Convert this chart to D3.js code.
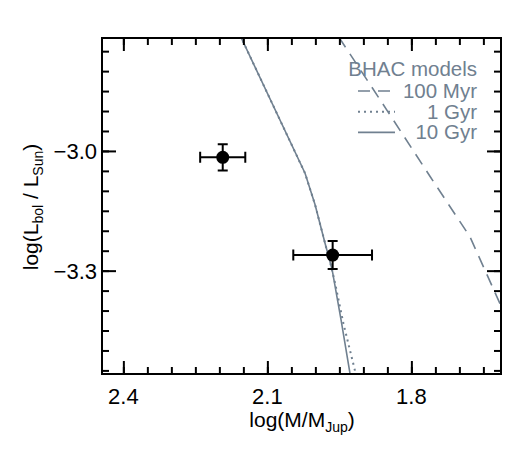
<!DOCTYPE html>
<html>
<head>
<meta charset="utf-8">
<script src="https://cdn.jsdelivr.net/npm/d3@7"></script>
<style>
  body { margin: 0; background: #fff; }
  text { font-family: "Liberation Sans", Arial, sans-serif; }
</style>
</head>
<body>
<div id="my_dataviz"></div>
<script>
// ---- data ----
var xMajorTicks = [2.4, 2.1, 1.8];
var yMajorTicks = [-3.0, -3.3];

// the two objects (mass, luminosity and their errors)
var objMass    = [2.193, 1.964];
var objMassErr = [0.047, 0.082];
var objLum     = [-3.016, -3.261];
var objLumErr  = [0.033, 0.035];

// BHAC model isochrones
var track100MyrMass = [1.951, 1.865, 1.761, 1.678, 1.622, 1.594];
var track100MyrLum  = [-2.715, -2.872, -3.064, -3.215, -3.365, -3.440];

var track1GyrMass = [2.162, 2.0215, 2.0006, 1.980, 1.967, 1.959, 1.9417, 1.9158, 1.912];
var track1GyrLum  = [-2.697, -3.056, -3.135, -3.2306, -3.29, -3.331, -3.4318, -3.559, -3.575];

var track10GyrMass = [2.162, 2.0215, 2.0006, 1.980, 1.965, 1.9465, 1.9277, 1.925];
var track10GyrLum  = [-2.697, -3.056, -3.135, -3.2306, -3.298, -3.4236, -3.559, -3.57];

var legendLabels = ["100 Myr", "1 Gyr", "10 Gyr"];
var legendDash = ["12,8", "2,4", null];

// set the dimensions and margins of the graph
var margin = {top: 38, right: 24, bottom: 76, left: 102},
    width = 525 - margin.left - margin.right,
    height = 450 - margin.top - margin.bottom;

var modelColor = "#708090";

var root = d3.select("#my_dataviz")
  .append("svg")
    .attr("width", width + margin.left + margin.right)
    .attr("height", height + margin.top + margin.bottom);
var svg = root.append("g")
    .attr("transform", "translate(" + margin.left + "," + margin.top + ")");

// scales (mass axis runs backwards)
var x = d3.scaleLinear()
  .domain([2.4445, 1.6133])
  .range([0, width]);
var y = d3.scaleLinear()
  .domain([-3.559, -2.717])
  .range([height, 0]);

// minor tick positions every 0.05
var xMinor = d3.range(2.40, 1.62, -0.05).map(function(d) { return +d.toFixed(2); });
var yMinor = d3.range(-2.75, -3.56, -0.05).map(function(d) { return +d.toFixed(2); });

// ---------------------------//
//       MODEL TRACKS         //
// ---------------------------//
var trackLine = d3.line()
  .x(function(d) { return x(d[0]); })
  .y(function(d) { return y(d[1]); });

var tracks = [
  {mass: track100MyrMass, lum: track100MyrLum, dash: "12,8", w: 1.6},
  {mass: track1GyrMass, lum: track1GyrLum, dash: "2,4", w: 2},
  {mass: track10GyrMass, lum: track10GyrLum, dash: null, w: 1.6}
];

var trackG = svg.append("svg")
  .attr("width", width)
  .attr("height", height);
tracks.forEach(function(t) {
  trackG.append("path")
    .datum(d3.zip(t.mass, t.lum))
    .attr("d", trackLine)
    .attr("fill", "none")
    .attr("stroke", modelColor)
    .attr("stroke-width", t.w)
    .attr("stroke-dasharray", t.dash);
});

// ---------------------------//
//       LEGEND               //
// ---------------------------//
var legX = 477 - margin.left;
svg.append("text")
  .attr("x", legX)
  .attr("y", 76 - margin.top)
  .attr("text-anchor", "end")
  .style("font-size", "20.5px")
  .style("fill", modelColor)
  .text("BHAC models");

legendLabels.forEach(function(lab, i) {
  var cy = 91 + i * 20.7 - margin.top;
  svg.append("path")
    .attr("d", "M" + (358 - margin.left) + "," + cy + "H" + (395 - margin.left))
    .attr("fill", "none")
    .attr("stroke", modelColor)
    .attr("stroke-width", i == 1 ? 2 : 1.6)
    .attr("stroke-dasharray", legendDash[i]);
  svg.append("text")
    .attr("x", legX)
    .attr("y", cy + 7)
    .attr("text-anchor", "end")
    .style("font-size", "20.5px")
    .style("fill", modelColor)
    .text(lab);
});

// ---------------------------//
//       DATA POINTS          //
// ---------------------------//
var objects = d3.range(objMass.length);
var pts = svg.append("g")
  .attr("fill", "none")
  .attr("stroke", "black")
  .attr("stroke-width", 2);

// error bars with caps, one path per object
pts.selectAll(null).data(objects).enter().append("path")
  .attr("d", function(i) {
    var cx = x(objMass[i]), cy = y(objLum[i]);
    var xa = x(objMass[i] + objMassErr[i]), xb = x(objMass[i] - objMassErr[i]);
    var ya = y(objLum[i] + objLumErr[i]), yb = y(objLum[i] - objLumErr[i]);
    return "M" + xa + "," + cy + "H" + xb +
      "M" + xa + "," + (cy - 5.5) + "V" + (cy + 5.5) +
      "M" + xb + "," + (cy - 5.5) + "V" + (cy + 5.5) +
      "M" + cx + "," + ya + "V" + yb +
      "M" + (cx - 5) + "," + ya + "H" + (cx + 5) +
      "M" + (cx - 5) + "," + yb + "H" + (cx + 5);
  });

svg.selectAll(null).data(objects).enter().append("circle")
  .attr("cx", function(i) { return x(objMass[i]); })
  .attr("cy", function(i) { return y(objLum[i]); })
  .attr("r", 6.5)
  .style("fill", "black");

// tick labels
svg.append("g").selectAll("text").data(xMajorTicks).enter().append("text")
  .attr("x", function(d) { return x(d); })
  .attr("y", height + 29.5)
  .attr("text-anchor", "middle")
  .style("font-size", "22px")
  .text(d3.format(".1f"));
svg.append("g").selectAll("text").data(yMajorTicks).enter().append("text")
  .attr("x", -5)
  .attr("y", function(d) { return y(d) + 8; })
  .attr("text-anchor", "end")
  .style("font-size", "22px")
  .text(function(d) { return d3.format(".1f")(d).replace("-", "\u2212"); });

// ---------------------------//
//       AXIS LABELS          //
// ---------------------------//
var xl = svg.append("text")
  .attr("x", 302 - margin.left)
  .attr("y", 427 - margin.top)
  .attr("text-anchor", "middle")
  .style("font-size", "21px");
xl.append("tspan").text("log(M/M");
xl.append("tspan").attr("dy", 5).style("font-size", "14px").text("Jup");
xl.append("tspan").attr("dy", -5).text(")");

var yl = svg.append("text")
  .attr("transform", "translate(" + (38 - margin.left) + "," + (207 - margin.top) + ") rotate(-90)")
  .attr("text-anchor", "middle")
  .style("font-size", "21px");
yl.append("tspan").text("log(L");
yl.append("tspan").attr("dy", 5).style("font-size", "14px").text("bol");
yl.append("tspan").attr("dy", -5).text(" / L");
yl.append("tspan").attr("dy", 5).style("font-size", "14px").text("Sun");
yl.append("tspan").attr("dy", -5).text(")");

// ---------------------------//
//   FRAME + TICKS (last)     //
// ---------------------------//
var frame = root.append("g")
  .attr("transform", "translate(" + margin.left + "," + margin.top + ")");

frame.append("rect")
  .attr("width", width)
  .attr("height", height)
  .attr("fill", "none")
  .attr("stroke", "black")
  .attr("stroke-width", 2);

// bottom / top ticks
[[xMinor, 7], [xMajorTicks, 13]].forEach(function(set) {
  frame.append("g")
    .attr("transform", "translate(0," + height + ")")
    .call(d3.axisBottom(x).tickValues(set[0]).tickSizeInner(-set[1]).tickSizeOuter(0).tickFormat(""))
    .call(function(g) { g.select(".domain").remove(); });
  frame.append("g")
    .call(d3.axisTop(x).tickValues(set[0]).tickSizeInner(-set[1]).tickSizeOuter(0).tickFormat(""))
    .call(function(g) { g.select(".domain").remove(); });
});
// left / right ticks
[[yMinor, 7], [yMajorTicks, 14]].forEach(function(set) {
  frame.append("g")
    .call(d3.axisLeft(y).tickValues(set[0]).tickSizeInner(-set[1]).tickSizeOuter(0).tickFormat(""))
    .call(function(g) { g.select(".domain").remove(); });
  frame.append("g")
    .attr("transform", "translate(" + width + ",0)")
    .call(d3.axisRight(y).tickValues(set[0]).tickSizeInner(-set[1]).tickSizeOuter(0).tickFormat(""))
    .call(function(g) { g.select(".domain").remove(); });
});
frame.selectAll(".tick line")
  .attr("stroke", "#000")
  .attr("stroke-width", 2);
</script>
</body>
</html>
